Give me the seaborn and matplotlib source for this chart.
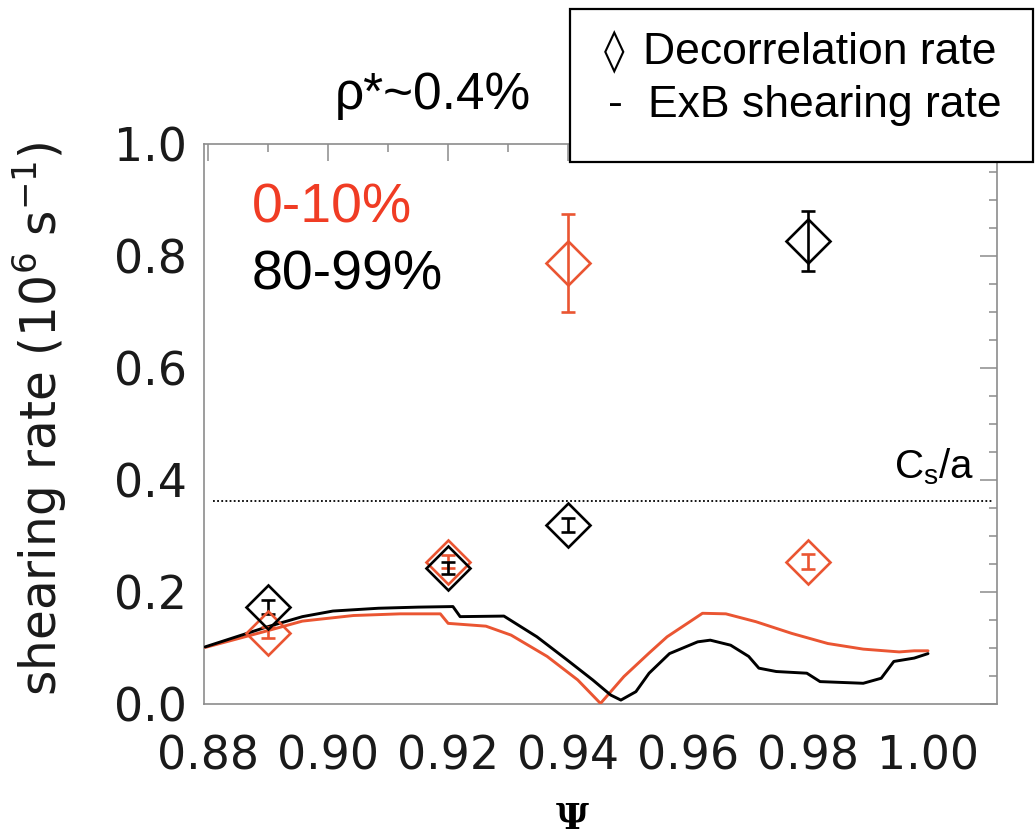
import matplotlib
matplotlib.use("Agg")
import matplotlib.pyplot as plt
from matplotlib.patches import Rectangle
from matplotlib.ticker import FixedLocator, MultipleLocator
import pandas as pd
import seaborn as sns

# ExB shearing-rate profiles (10^6 s^-1) versus normalised flux Psi
psi_core = [0.8795, 0.8896, 0.8957, 0.9042, 0.9120, 0.9187, 0.9200, 0.9263, 0.9305,
            0.9365, 0.9416, 0.9454, 0.9493, 0.9535, 0.9565, 0.9603, 0.9624, 0.9663,
            0.9713, 0.9773, 0.9833, 0.9892, 0.9952, 0.9977, 1.0000]
rate_core = [0.101, 0.130, 0.148, 0.158, 0.161, 0.161, 0.144, 0.139, 0.123,
             0.085, 0.043, 0.001, 0.049, 0.091, 0.120, 0.147, 0.162, 0.161,
             0.147, 0.126, 0.108, 0.098, 0.093, 0.095, 0.095]

psi_edge = [0.8795, 0.8896, 0.8957, 0.9008, 0.9084, 0.9150, 0.9208, 0.9220, 0.9293,
            0.9348, 0.9398, 0.9441, 0.9471, 0.9488, 0.9513, 0.9535, 0.9569, 0.9616,
            0.9637, 0.9671, 0.9701, 0.9718, 0.9747, 0.9798, 0.9820, 0.9892, 0.9922,
            0.9943, 0.9977, 1.0000]
rate_edge = [0.102, 0.137, 0.156, 0.166, 0.171, 0.173, 0.174, 0.156, 0.157,
             0.120, 0.079, 0.043, 0.016, 0.007, 0.022, 0.055, 0.090, 0.111,
             0.114, 0.105, 0.085, 0.064, 0.058, 0.055, 0.040, 0.037, 0.046,
             0.076, 0.082, 0.090]

# Decorrelation rates with uncertainties
psi_pts = [0.89, 0.92, 0.94, 0.98]
decor_core = [0.127, 0.254, 0.7875, 0.254]
decor_core_err = [0.010, 0.012, 0.0875, 0.013]
decor_edge = [0.173, 0.243, 0.320, 0.8265]
decor_edge_err = [0.012, 0.010, 0.012, 0.0535]

cs_over_a = 0.3625

x_ticks = [0.88, 0.90, 0.92, 0.94, 0.96, 0.98, 1.00]
x_tick_labels = ["0.88", "0.90", "0.92", "0.94", "0.96", "0.98", "1.00"]
y_ticks = [0.0, 0.2, 0.4, 0.6, 0.8, 1.0]
y_tick_labels = ["0.0", "0.2", "0.4", "0.6", "0.8", "1.0"]

RED = "#EA5532"
RED_TEXT = "#F03C24"
FRAME = "#8c8c8c"

sns.set_theme(style="white")
plt.rcParams["font.family"] = ["DejaVu Sans"]
plt.rcParams["mathtext.fontset"] = "dejavusans"
plt.rcParams["text.color"] = "black"
plt.rcParams["axes.labelcolor"] = "black"

fig = plt.figure(figsize=(10.36, 8.35), dpi=100)
ax = fig.add_axes([204 / 1036, (835 - 704) / 835, 793 / 1036, 560 / 835])

profiles = pd.concat([
    pd.DataFrame({"psi": psi_core, "rate": rate_core, "group": "0-10%"}),
    pd.DataFrame({"psi": psi_edge, "rate": rate_edge, "group": "80-99%"}),
])
sns.lineplot(data=profiles, x="psi", y="rate", hue="group",
             palette={"0-10%": RED, "80-99%": "black"},
             estimator=None, sort=False, legend=False, lw=2.1, ax=ax, zorder=3)

for y, err, col in [(decor_core, decor_core_err, RED), (decor_edge, decor_edge_err, "black")]:
    ax.errorbar(psi_pts, y, yerr=err, fmt="D", ms=22, mfc="none", mec=col, mew=1.9,
                ecolor=col, elinewidth=1.9, capsize=5, capthick=1.9, zorder=4)

ax.hlines(cs_over_a, 0.8808, 1.0108, colors="black", lw=1.3,
          linestyles=(0, (1, 1.3)), zorder=2)
ax.text(0.9943, cs_over_a + 0.04, r"C$_\mathregular{s}$/a", fontsize=29,
        family="Liberation Sans", ha="left", va="baseline")

ax.set_xlim(0.8793, 1.0115)
ax.set_ylim(0.0, 1.0)
ax.xaxis.set_major_locator(FixedLocator(x_ticks))
ax.set_xticklabels(x_tick_labels)
ax.xaxis.set_minor_locator(MultipleLocator(0.01))
ax.yaxis.set_major_locator(FixedLocator(y_ticks))
ax.set_yticklabels(y_tick_labels)
ax.yaxis.set_minor_locator(MultipleLocator(0.05))

ax.tick_params(which="both", direction="in", top=True, right=True, color=FRAME,
               width=1.1, labelsize=33, labelcolor="#1a1a1a")
ax.tick_params(which="major", length=12)
ax.tick_params(which="minor", length=6)
ax.tick_params(axis="x", which="major", pad=22)
ax.tick_params(axis="y", which="major", pad=12)
for sp in ax.spines.values():
    sp.set_color(FRAME)
    sp.set_linewidth(1.2)

ax.set_ylabel(r"shearing rate (10$^6$ s$^{-1}$)", fontsize=35, color="#1a1a1a")
ax.yaxis.set_label_coords(-0.17, 0.51)
ax.set_xlabel("Ψ", fontsize=26, family="DejaVu Serif", fontweight="bold")
ax.xaxis.set_label_coords(0.465, -0.175)

ax.text(0.060, 0.885, "0-10%", transform=ax.transAxes, fontsize=40,
        color=RED_TEXT, family="Liberation Sans", va="center")
ax.text(0.060, 0.765, "80-99%", transform=ax.transAxes, fontsize=40,
        color="black", family="Liberation Sans", va="center")

fig.text(335 / 1036, 1 - 95 / 835, "ρ*~0.4%", fontsize=37,
         family="Liberation Sans", va="center", ha="left")

fig.add_artist(Rectangle((570 / 1036, (835 - 162) / 835), 463 / 1036, 153 / 835,
                         transform=fig.transFigure, facecolor="white",
                         edgecolor="black", lw=1.6, zorder=5))
fig.text(604 / 1036, 1 - 52 / 835, "◊", fontsize=30, family="DejaVu Sans",
         va="center", ha="left", zorder=6)
fig.text(643 / 1036, 1 - 52 / 835, "Decorrelation rate", fontsize=32,
         family="Liberation Sans", va="center", ha="left", zorder=6)
fig.text(608 / 1036, 1 - 105 / 835, "-", fontsize=32,
         family="Liberation Sans", va="center", ha="left", zorder=6)
fig.text(648 / 1036, 1 - 105 / 835, "ExB shearing rate", fontsize=32,
         family="Liberation Sans", va="center", ha="left", zorder=6)

fig.savefig("out.png", dpi=100)
